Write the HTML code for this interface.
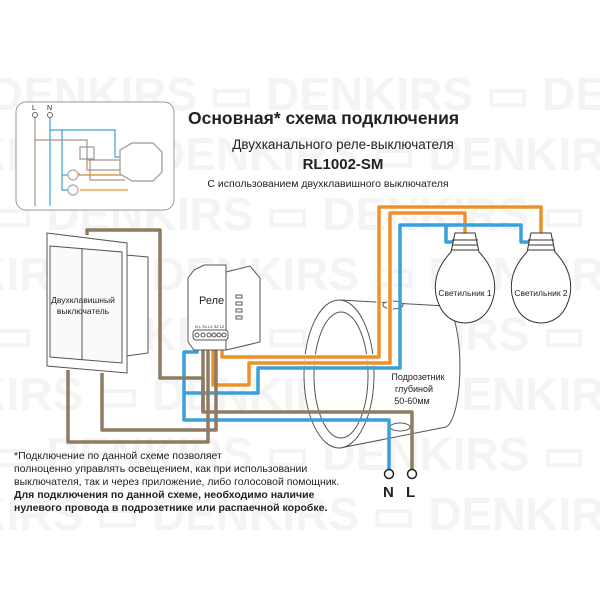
<!DOCTYPE html><html><head><meta charset="utf-8"><style>
body{margin:0;background:#fff}
svg{display:block}
text{font-family:"Liberation Sans",sans-serif;fill:#222}
text.wm{fill:#f4f4f4;font-size:46px;font-weight:bold}
</style></head><body>
<svg width="600" height="600" viewBox="0 0 600 600" xmlns="http://www.w3.org/2000/svg">
<g>
<text class="wm" x="-10" y="110">DENKIRS ▭ DENKIRS ▭ DENKIRS</text>
<text class="wm" x="-60" y="170">NKIRS ▭ DENKIRS ▭ DENKIRS</text>
<text class="wm" x="-10" y="230">▭ DENKIRS ▭ DENKIRS ▭ DENK</text>
<text class="wm" x="-60" y="290">NKIRS ▭ DENKIRS ▭ DENKIRS</text>
<text class="wm" x="-10" y="350">▭ DENKIRS ▭ DENKIRS ▭ DENK</text>
<text class="wm" x="-60" y="410">NKIRS ▭ DENKIRS ▭ DENKIRS</text>
<text class="wm" x="-10" y="470">▭ DENKIRS ▭ DENKIRS ▭ DENK</text>
<text class="wm" x="-60" y="530">NKIRS ▭ DENKIRS ▭ DENKIRS</text>
</g>
<!-- inset -->
<rect x="16" y="102" width="158" height="108" rx="10" fill="#fff" stroke="#999" stroke-width="1"/>
<g fill="none" stroke-width="1.2">
<line x1="35" y1="115" x2="35" y2="206" stroke="#a89580"/>
<line x1="50" y1="115" x2="50" y2="206" stroke="#3aa0dc"/>
<path d="M50 130 H115 V157 H128" stroke="#3aa0dc"/>
<path d="M62 130 V190 H70" stroke="#3aa0dc"/>
<path d="M35 140 H87 V160 H128" stroke="#a89580"/>
<rect x="80" y="147" width="14" height="12" stroke="#999"/>
<path d="M87 157 V170 H128 M90 158 V180 H125 M76 175 H128" stroke="#a89580"/>
<path d="M76 174 H80 M84 175 H128 M80 190 H128" stroke="#f0902a"/>
<path d="M62 175 H68" stroke="#3aa0dc"/>
<circle cx="73" cy="175" r="5" stroke="#aaa" fill="#fff"/>
<circle cx="73" cy="190" r="5" stroke="#aaa" fill="#fff"/>
<path d="M120 150 L132 143 H153 L162 152 V172 L153 181 H132 L120 174 Z" stroke="#aaa" stroke-width="1.5" fill="#fff"/>
</g>
<circle cx="35" cy="115" r="2.5" fill="#fff" stroke="#666"/><circle cx="50" cy="115" r="2.5" fill="#fff" stroke="#666"/>
<text x="32" y="110" font-size="7">L</text><text x="47" y="110" font-size="7">N</text>
<!-- titles -->
<text x="188" y="124" font-size="17.5" font-weight="bold">Основная* схема подключения</text>
<text x="343" y="149" font-size="13.5" text-anchor="middle">Двухканального реле-выключателя</text>
<text x="343" y="169" font-size="15" font-weight="bold" text-anchor="middle">RL1002-SM</text>
<text x="328" y="187" font-size="10.5" text-anchor="middle">С использованием двухклавишного выключателя</text>
<!-- box cylinder -->
<g fill="#fff" stroke="#555" stroke-width="1">
<path d="M340 300 L446 306 A16 61 0 0 1 446 427 L340 448" />
<ellipse cx="339" cy="374" rx="35" ry="74"/>
<ellipse cx="341" cy="375" rx="27" ry="63"/>
<ellipse cx="393" cy="305" rx="10" ry="4"/>
<ellipse cx="400" cy="427" rx="10" ry="4"/>
</g>
<text x="418" y="380" font-size="9" text-anchor="middle">Подрозетник</text>
<text x="414" y="392" font-size="9" text-anchor="middle">глубиной</text>
<text x="412" y="404" font-size="9" text-anchor="middle">50-60мм</text>
<!-- wires -->
<g fill="none" stroke-width="3.5" stroke-linejoin="round">
<path d="M222 340 V357 H379 V207 H541 V235" stroke="#fff" stroke-width="5.5"/>
<path d="M222 340 V357 H379 V207 H541 V235" stroke="#f0902a"/>
<path d="M213 340 V385 H249 V363 H390 V213 H465 V235" stroke="#fff" stroke-width="5.5"/>
<path d="M213 340 V385 H249 V363 H390 V213 H465 V235" stroke="#f0902a"/>
<path d="M456 242 H446 V225 H521 V242 H531 M446 225 H400 V368 H258 V393 H184" stroke="#3aa0dc"/>
<path d="M197 340 V352 H184 V420 H389 V470" stroke="#3aa0dc"/>
<path d="M87 235 V230 H160 V378 H203 V412 H412 V470" stroke="#8f7a62"/>
<path d="M203 340 V412" stroke="#8f7a62"/>
<path d="M216 340 V430 H102 V373" stroke="#8f7a62"/>
<path d="M208 340 V442 H68 V370" stroke="#8f7a62"/>
</g>
<circle cx="389" cy="474" r="4.5" fill="#fff" stroke="#222" stroke-width="1.5"/>
<circle cx="412" cy="474" r="4.5" fill="#fff" stroke="#222" stroke-width="1.5"/>
<text x="383" y="497" font-size="15" font-weight="bold">N</text>
<text x="406" y="497" font-size="15" font-weight="bold">L</text>
<!-- switch -->
<g stroke="#555" stroke-width="1" fill="#fff">
<path d="M126 255 L148 257 V353 L126 356 Z"/>
<path d="M47 233 L127 243 V373 L47 366 Z"/>
<path d="M50 246 L122 252 V363 L50 357 Z" fill="#fafafa"/>
<line x1="82" y1="249" x2="82" y2="360"/>
</g>
<text x="83" y="303" font-size="8.5" text-anchor="middle">Двухклавишный</text>
<text x="83" y="314" font-size="8.5" text-anchor="middle">выключатель</text>
<!-- relay -->
<g stroke="#555" stroke-width="1" fill="#fff">
<path d="M226 272 L250 266 L260 278 V342 L226 350 Z"/>
<path d="M194 270 L204 265 H226 V350 H194 L188 342 V278 Z"/>
<rect x="236" y="295" width="6" height="3"/><rect x="236" y="302" width="6" height="3"/><rect x="236" y="309" width="6" height="3"/><rect x="236" y="316" width="6" height="3"/>
<rect x="193" y="330" width="35" height="10" rx="3"/>
<circle cx="197" cy="335" r="2"/><circle cx="203" cy="335" r="2"/><circle cx="209" cy="335" r="2"/><circle cx="214" cy="335" r="2"/><circle cx="219" cy="335" r="2"/><circle cx="224" cy="335" r="2"/>
</g>
<text x="199" y="304" font-size="11">Реле</text>
<text x="195" y="328" font-size="4">N  L S1 L1 S2 L2</text>
<!-- bulbs -->
<g stroke="#333" stroke-width="1" fill="#fff">
<path d="M455 233 H475 L479 252 Q498 272 494 295 Q488 322 465 323 Q442 322 436 295 Q432 272 451 252 Z"/>
<path d="M531 233 H551 L555 252 Q574 272 570 295 Q564 322 541 323 Q518 322 512 295 Q508 272 527 252 Z"/>
<path d="M452 240 H478 M452 245 H478 M451 250 H479 M528 240 H554 M528 245 H554 M527 250 H555"/>
</g>
<text x="465" y="296" font-size="8.5" text-anchor="middle">Светильник 1</text>
<text x="541" y="296" font-size="8.5" text-anchor="middle">Светильник 2</text>
<!-- notes -->
<g font-size="10.5">
<text x="14" y="459">*Подключение по данной схеме позволяет</text>
<text x="14" y="472">полноценно управлять освещением, как при использовании</text>
<text x="14" y="485">выключателя, так и через приложение, либо голосовой помощник.</text>
<text x="14" y="498" font-weight="bold">Для подключения по данной схеме, необходимо наличие</text>
<text x="14" y="511" font-weight="bold">нулевого провода в подрозетнике или распаечной коробке.</text>
</g>
</svg>
</body></html>
